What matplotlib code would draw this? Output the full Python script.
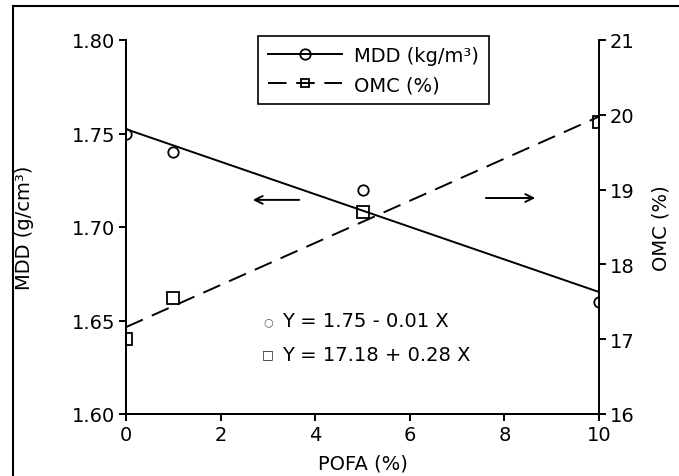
import numpy as np
import matplotlib
matplotlib.use('Agg')
import matplotlib.pyplot as plt
from matplotlib.lines import Line2D

# Data
pofa = [0, 1, 5, 10]
mdd = [1.75, 1.74, 1.72, 1.66]
omc = [17.0, 17.55, 18.7, 19.9]

eq_mdd = 'Y = 1.75 - 0.01 X'
eq_omc = 'Y = 17.18 + 0.28 X'

plt.rcParams['font.family'] = 'DejaVu Sans'
fs = 14

fig = plt.figure(figsize=(6.79, 4.77), dpi=100)
ax = fig.add_axes([126 / 679, 1 - 415 / 477, 473 / 679, 374 / 477])
ax2 = ax.twinx()

# outer frame (only top and left visible in the reference)
fig.add_artist(plt.Rectangle((13 / 679, -0.1), 1.2, 1 - 7 / 477 + 0.1,
                             transform=fig.transFigure, fill=False,
                             edgecolor='black', linewidth=1.5))

# linear fits
xx = np.array([0, 10])
p1 = np.polyfit(pofa, mdd, 1)
p2 = np.polyfit(pofa, omc, 1)

ax.plot(xx, np.polyval(p1, xx), color='black', lw=1.4)
ax.plot(pofa, mdd, 'o', mfc='none', mec='black', ms=7.5, mew=1.3)
ax2.plot(xx, np.polyval(p2, xx), color='black', lw=1.4, dashes=[9.5, 5])
ax2.plot(pofa, omc, 's', mfc='none', mec='black', ms=8, mew=1.3)

ax.set_xlim(0, 10)
ax.set_ylim(1.60, 1.80)
ax2.set_ylim(16, 21)
ax.set_xticks([0, 2, 4, 6, 8, 10])
ax.set_yticks([1.60, 1.65, 1.70, 1.75, 1.80])
ax.set_yticklabels(['1.60', '1.65', '1.70', '1.75', '1.80'])
ax2.set_yticks([16, 17, 18, 19, 20, 21])

for a in (ax, ax2):
    a.spines['top'].set_visible(False)
    for s in a.spines.values():
        s.set_linewidth(1.4)
    a.tick_params(direction='out', length=5, width=1.4, labelsize=fs, pad=3)
ax.spines['right'].set_visible(False)

ax.set_xlabel('POFA (%)', fontsize=fs, labelpad=7)
ax.set_ylabel('MDD (g/cm³)', fontsize=fs, labelpad=27)
ax2.set_ylabel('OMC (%)', fontsize=fs, labelpad=12)

# legend
h1 = Line2D([], [], color='black', lw=1.4, marker='o', mfc='none', mec='black', ms=7.5, mew=1.3)
h2 = Line2D([], [], color='black', lw=1.4, dashes=[9.5, 5], marker='s', mfc='none', mec='black', ms=6, mew=1.3)
leg = ax.legend([h1, h2], ['MDD (kg/m³)', 'OMC (%)'], loc='upper left',
                bbox_to_anchor=(0.279, 1.011), fontsize=fs, frameon=True,
                fancybox=False, edgecolor='black', framealpha=1,
                handlelength=3.8, borderpad=0.5, labelspacing=0.55,
                handletextpad=0.65, borderaxespad=0)
leg.get_frame().set_linewidth(1.2)
leg.set_zorder(5)

# arrows
arrow = dict(arrowstyle='->', color='black', lw=1.4, mutation_scale=14)
ax.annotate('', xy=(2.62, 1.7145), xytext=(3.72, 1.7145), arrowprops=arrow)
ax.annotate('', xy=(8.71, 1.7155), xytext=(7.55, 1.7155), arrowprops=arrow)

# regression equations
ax.text(0.300, 0.249, '○', transform=ax.transAxes, fontsize=8, color='#555555', va='center', ha='center')
ax.text(0.330, 0.249, eq_mdd, transform=ax.transAxes, fontsize=fs, va='center')
ax.text(0.300, 0.160, '□', transform=ax.transAxes, fontsize=9, color='#222222', va='center', ha='center')
ax.text(0.330, 0.160, eq_omc, transform=ax.transAxes, fontsize=fs, va='center')

plt.savefig('out.png', dpi=100)
